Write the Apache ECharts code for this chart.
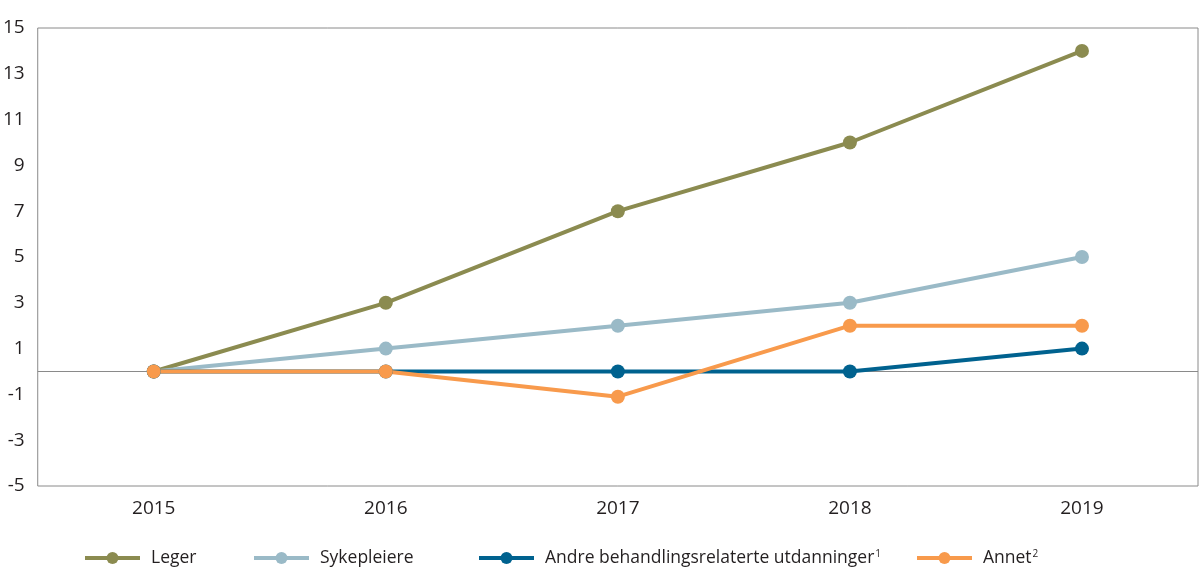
<!DOCTYPE html>
<html>
<head>
<meta charset="utf-8">
<script src="https://cdn.jsdelivr.net/npm/echarts@6/dist/echarts.min.js"></script>
<style>html,body{margin:0;padding:0;background:#fff}#c{width:1200px;height:582px}</style>
</head>
<body>
<div id="c"></div>
<script>
const categories = ['2015', '2016', '2017', '2018', '2019'];
const leger = [0, 3, 7, 10, 14];
const sykepleiere = [0, 1, 2, 3, 5];
const andre = [0, 0, 0, 0, 1];
const annet = [0, 0, -1.1, 2, 2];
const seriesNames = ['Leger', 'Sykepleiere', 'Andre behandlingsrelaterte utdanninger', 'Annet'];
const superscripts = { 'Andre behandlingsrelaterte utdanninger': '1', 'Annet': '2' };
const colors = ['#8b8b50', '#9abac7', '#00628f', '#f89a4c'];

const FONT = '"Open Sans", "Noto Sans", sans-serif';
const chart = echarts.init(document.getElementById('c'), null, { renderer: 'canvas' });

function mkSeries(name, data, color, extra) {
  return Object.assign({
    name: name,
    type: 'line',
    data: data,
    symbol: 'circle',
    symbolSize: 14,
    lineStyle: { width: 4, color: color },
    itemStyle: { color: color },
    animation: false
  }, extra || {});
}

const legendLefts = [83, 252, 477, 915];
const legends = seriesNames.map((n, i) => ({
  data: [n],
  left: legendLefts[i],
  top: 549,
  padding: 0,
  itemWidth: 55,
  itemHeight: 15,
  itemGap: 12,
  lineStyle: { width: 4 },
  textStyle: {
    fontFamily: FONT, fontSize: 17.5, color: '#231f20',
    padding: [0, 0, 0, 6],
    rich: { sup: { fontFamily: FONT, fontSize: 10, color: '#231f20', verticalAlign: 'top', padding: [0, 0, 8, 1] } }
  },
  formatter: (name) => superscripts[name] ? name + '{sup|' + superscripts[name] + '}' : name
}));

chart.setOption({
  animation: false,
  color: colors,
  grid: { left: 35, right: 2, top: 28, bottom: 96, show: true, borderColor: '#8a8a8a', borderWidth: 1, backgroundColor: 'transparent' },
  legend: legends,
  xAxis: {
    type: 'category',
    data: categories,
    boundaryGap: true,
    axisLine: { show: false },
    axisTick: { show: false },
    axisLabel: { fontFamily: FONT, fontSize: 19, color: '#231f20', margin: 13 },
    splitLine: { show: false }
  },
  yAxis: {
    type: 'value',
    min: -5, max: 15, interval: 2,
    axisLine: { show: false },
    axisTick: { show: false },
    splitLine: { show: false },
    axisLabel: { fontFamily: FONT, fontSize: 19, color: '#231f20', margin: 13 }
  },
  series: [
    mkSeries(seriesNames[0], leger, colors[0]),
    mkSeries(seriesNames[1], sykepleiere, colors[1]),
    mkSeries(seriesNames[2], andre, colors[2], {
      markLine: {
        silent: true, symbol: 'none', animation: false,
        label: { show: false },
        lineStyle: { color: '#8a8a8a', width: 1, type: 'solid' },
        data: [{ yAxis: 0 }],
        z: 1
      }
    }),
    mkSeries(seriesNames[3], annet, colors[3])
  ]
});
</script>
</body>
</html>
